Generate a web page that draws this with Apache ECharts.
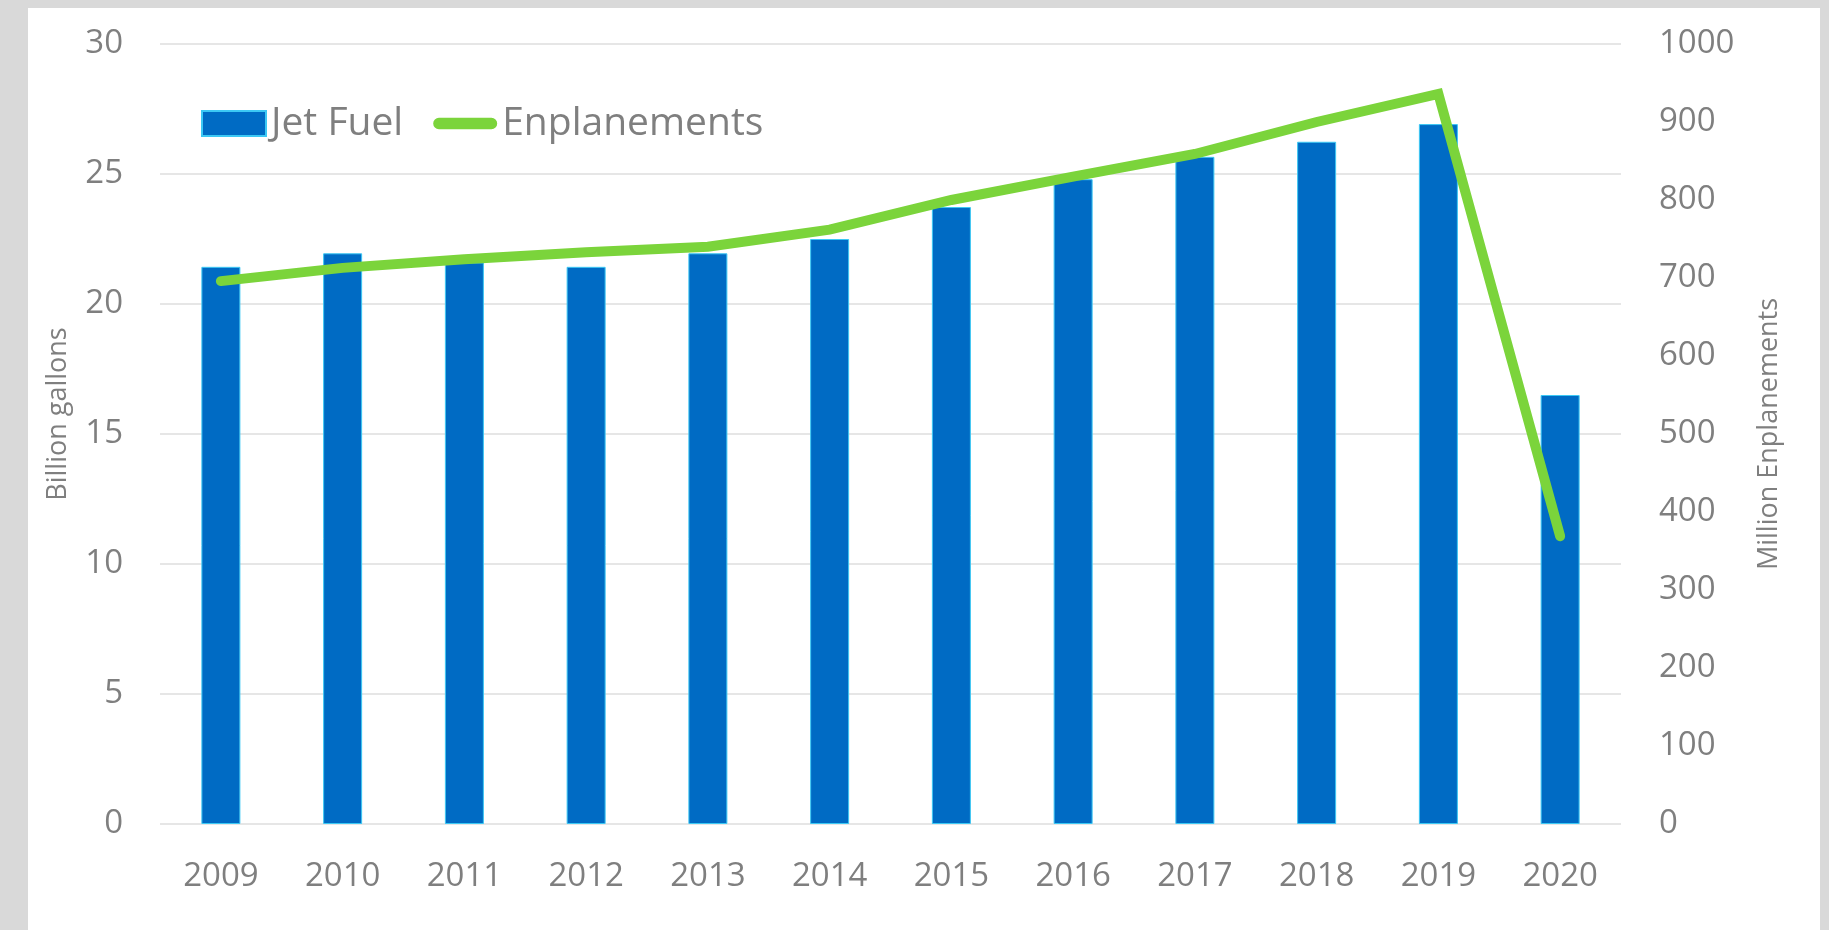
<!DOCTYPE html>
<html>
<head>
<meta charset="utf-8">
<script src="https://cdn.jsdelivr.net/npm/echarts@6/dist/echarts.min.js"></script>
<style>
  html, body { margin: 0; padding: 0; background: #d9d9d9; width: 1829px; height: 930px; overflow: hidden; }
  #panel { position: absolute; left: 28px; top: 8px; width: 1792px; height: 922px; background: #ffffff; }
</style>
</head>
<body>
<div id="panel"></div>
<script>
const years = ['2009','2010','2011','2012','2013','2014','2015','2016','2017','2018','2019','2020'];
const jetFuel = [21.43, 21.95, 21.6, 21.43, 21.95, 22.5, 23.73, 24.8, 25.66, 26.24, 26.92, 16.5];
const enplanements = [696, 713, 724, 733, 740, 762, 800, 830, 859, 900, 936, 369];
const leftTicks = { min: 0, max: 30, interval: 5 };
const rightTicks = { min: 0, max: 1000, interval: 100 };

const txt = '#7f7f7f';
const font = 'Open Sans';

const chart = echarts.init(document.getElementById('panel'), null, { renderer: 'canvas' });
chart.setOption({
  animation: false,
  textStyle: { fontFamily: font },
  grid: { left: 132, right: 199, top: 36, bottom: 106, containLabel: false },
  legend: {
    left: 168, top: 91,
    itemWidth: 64, itemHeight: 25, itemGap: 30,
    selectedMode: false,
    textStyle: { color: txt, fontSize: 39, fontFamily: font },
    data: [
      { name: 'Jet Fuel', icon: 'rect' },
      { name: 'Enplanements', icon: 'path://M6,0 L61,0 A6,6 0 0 1 61,12 L6,12 A6,6 0 0 1 6,0 Z', itemStyle: { borderWidth: 0 } }
    ]
  },
  xAxis: {
    type: 'category',
    data: years,
    boundaryGap: true,
    axisLine: { show: false },
    axisTick: { show: false },
    axisLabel: { color: txt, fontSize: 33, fontFamily: font, margin: 36 }
  },
  yAxis: [
    {
      type: 'value', min: leftTicks.min, max: leftTicks.max, interval: leftTicks.interval,
      name: 'Billion gallons', nameLocation: 'middle', nameGap: 88,
      nameTextStyle: { color: txt, fontSize: 27, fontFamily: font, padding: [0, 0, 0, 40] },
      axisLine: { show: false }, axisTick: { show: false },
      axisLabel: { color: txt, fontSize: 33, fontFamily: font, margin: 37 },
      splitLine: { show: true, lineStyle: { color: '#e6e6e6', width: 2 } }
    },
    {
      type: 'value', min: rightTicks.min, max: rightTicks.max, interval: rightTicks.interval,
      name: 'Million Enplanements', nameLocation: 'middle', nameGap: 135,
      nameTextStyle: { color: txt, fontSize: 27, fontFamily: font },
      axisLine: { show: false }, axisTick: { show: false },
      axisLabel: { color: txt, fontSize: 33, fontFamily: font, margin: 38, formatter: function (v) { return String(v); } },
      splitLine: { show: false }
    }
  ],
  series: [
    {
      name: 'Jet Fuel', type: 'bar', yAxisIndex: 0, data: jetFuel,
      barWidth: 39,
      itemStyle: { color: '#006bc4', borderColor: '#3cc8f4', borderWidth: 1 }
    },
    {
      name: 'Enplanements', type: 'line', yAxisIndex: 1, data: enplanements,
      showSymbol: false, symbol: 'none',
      lineStyle: { color: '#7bd43b', width: 10, cap: 'round', join: 'miter' },
      itemStyle: { color: '#7bd43b' },
      z: 5
    }
  ]
});
</script>
</body>
</html>
